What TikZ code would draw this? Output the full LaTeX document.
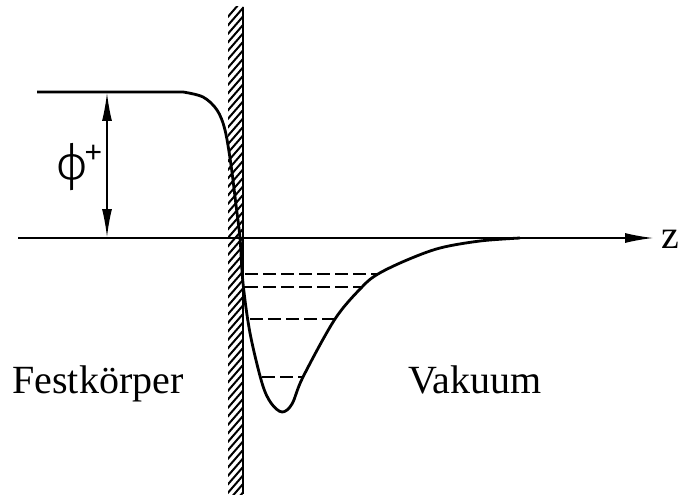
\documentclass[tikz,border=0pt]{standalone}
\usepackage{fontspec}
\setmainfont{Liberation Serif}
\newfontfamily\symfont{Fira Sans}[UprightFont={* Light}]
\newfontfamily\plusfont{Liberation Sans}
\usetikzlibrary{arrows.meta}

\begin{document}
\begin{tikzpicture}[x=0.5pt,y=-0.5pt,
    curve/.style={line width=1.4pt,line join=round},
    level/.style={dash pattern=on 6.5pt off 2.5pt,line width=0.8pt},
    thin/.style={line width=0.65pt},
    tip/.style={-{Latex[length=14pt,width=5pt]}},
    txt/.style={font=\fontsize{20}{24}\selectfont,anchor=base}]
  \useasboundingbox (0,0) rectangle (683,497);

  % wall with hatching
  \begin{scope}
    \clip (228,7) rectangle (243,494);
    \foreach \y in {0,8.5,...,520}
      \draw[line width=1pt] (226,\y+19) -- (246,\y-4);
  \end{scope}
  \coordinate (wallT) at (243,7);
  \coordinate (wallB) at (243,494);
  \draw[line width=1pt] (wallT) -- (wallB);

  % z axis
  \coordinate (axL) at (18,238);
  \coordinate (axR) at (653,238);
  \draw[thin,tip] (axL) -- (axR);
  \node[txt,anchor=base west,inner sep=0pt] (zlab) at (661,248) {z};

  % potential curve
  \draw[curve] (37,92) -- plot[smooth,tension=0.55] coordinates {
    (183,92) (203,97) (217,110) (225,130) (231,165) (236,205) (240,238)
    (243,283) (250,333) (262,383) (271,403) (282,412) (292,404) (303,377)
    (335,319) (362,287) (378,274) (407,260) (440,248) (480,241) (520,238)};

  % bound levels
  \foreach \n/\y/\xa/\xb in {1/274/245/378, 2/287/245/362, 3/319/250/335, 4/377/262/303} {
    \coordinate (lv\n a) at (\xa,\y);
    \coordinate (lv\n b) at (\xb,\y);
    \draw[level] (lv\n a) -- (lv\n b);
  }

  % work function
  \coordinate (phiT) at (107,93);
  \coordinate (phiB) at (107,237);
  \draw[thin,{Latex[length=14pt,width=5pt]}-{Latex[length=14pt,width=5pt]}] (phiT) -- (phiB);
  \node[anchor=base west,inner sep=0pt] (phi) at (56,180)
    {{\symfont\fontsize{25}{28}\selectfont ϕ}\hspace{-1.5pt}\raisebox{1.9ex}{\plusfont\fontsize{15}{18}\selectfont +}};

  % regions
  \node[txt,anchor=base west,inner sep=0pt] (fest) at (12,393) {Festkörper};
  \node[txt,anchor=base west,inner sep=0pt] (vak) at (408,393) {Vakuum};
\end{tikzpicture}
\end{document}
